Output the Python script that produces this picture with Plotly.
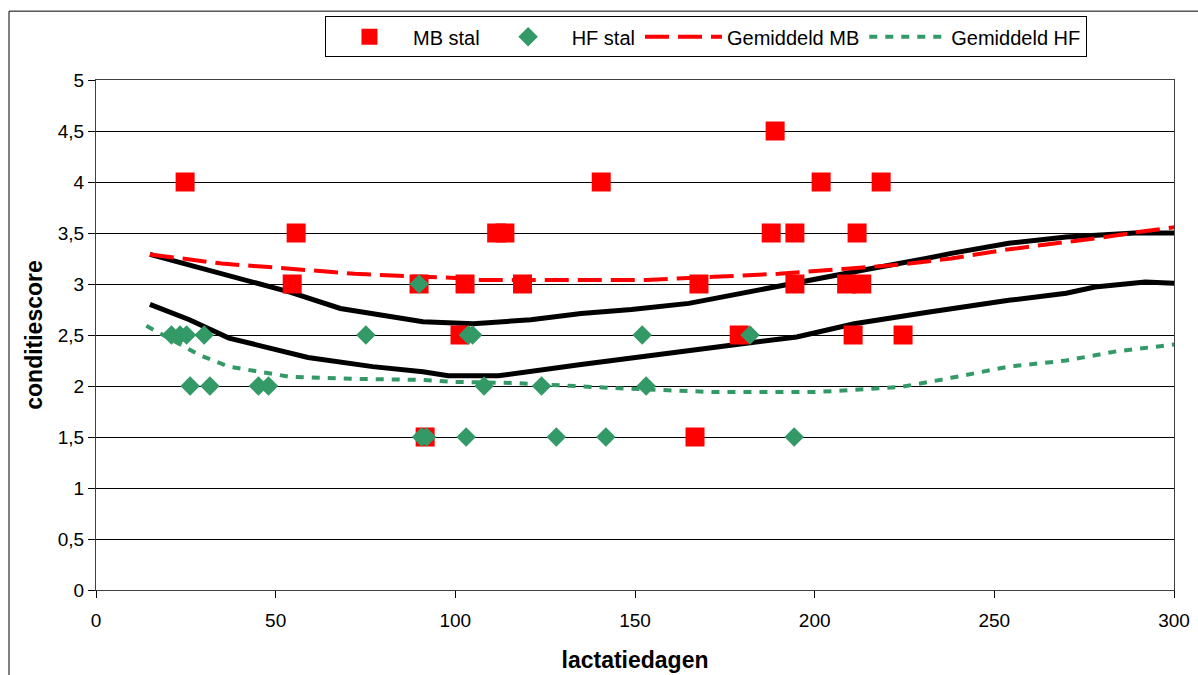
import plotly.graph_objects as go

# MB stal (red squares)
mb_x = [24.8, 55.7, 54.6, 89.9, 91.6, 102.7, 101.3, 111.5, 113.8, 118.7, 140.6, 167.8, 166.7,
        179.0, 189.0, 187.9, 194.5, 194.5, 201.8, 218.5, 211.8, 208.9, 213.1, 210.7, 224.6]
mb_y = [4.0, 3.5, 3.0, 3.0, 1.5, 3.0, 2.5, 3.5, 3.5, 3.0, 4.0, 3.0, 1.5,
        2.5, 4.5, 3.5, 3.5, 3.0, 4.0, 4.0, 3.5, 3.0, 3.0, 2.5, 2.5]

# HF stal (green diamonds)
hf_x = [21.0, 23.4, 25.2, 30.1, 26.2, 31.7, 45.2, 48.0, 75.1, 89.9, 90.6, 92.0, 103.0,
        103.6, 104.8, 108.0, 124.0, 128.1, 141.9, 152.0, 153.1, 182.0, 194.3]
hf_y = [2.5, 2.5, 2.5, 2.5, 2.0, 2.0, 2.0, 2.0, 2.5, 3.0, 1.5, 1.5, 1.5,
        2.5, 2.5, 2.0, 2.0, 1.5, 1.5, 2.5, 2.0, 2.5, 1.5]

# Gemiddeld MB (red dashed)
gmb_x = [15, 35, 54, 72, 91, 100, 107, 130, 153, 172, 190, 209, 224, 238, 252, 265, 279, 290, 301]
gmb_y = [3.29, 3.20, 3.15, 3.10, 3.07, 3.06, 3.04, 3.04, 3.04, 3.07, 3.10, 3.15, 3.19, 3.25, 3.33, 3.39, 3.45, 3.51, 3.56]

# Gemiddeld HF (green dotted)
ghf_x = [14, 29, 37, 45, 54, 72, 91, 100, 116, 144, 172, 200, 214, 224, 238, 254, 270, 284, 301]
ghf_y = [2.59, 2.30, 2.19, 2.14, 2.09, 2.07, 2.06, 2.04, 2.03, 1.98, 1.94, 1.94, 1.97, 1.99, 2.08, 2.19, 2.25, 2.34, 2.41]

# black reference curves (no legend)
up_x = [15, 35, 54, 68, 91, 105, 121, 135, 149, 165, 181, 195, 214, 231, 238, 254, 270, 289, 304]
up_y = [3.29, 3.10, 2.92, 2.76, 2.63, 2.61, 2.65, 2.71, 2.75, 2.81, 2.92, 3.02, 3.14, 3.25, 3.30, 3.40, 3.46, 3.50, 3.50]
lo_x = [15, 26, 37, 59, 77, 91, 98, 112, 135, 164, 181, 195, 211, 231, 254, 270, 278, 292, 304]
lo_y = [2.80, 2.65, 2.47, 2.28, 2.19, 2.14, 2.10, 2.10, 2.21, 2.35, 2.42, 2.48, 2.61, 2.72, 2.84, 2.91, 2.97, 3.02, 3.00]

RED = "#FF0000"
GREEN = "#339966"
FONT = "Liberation Sans, Arial, sans-serif"

fig = go.Figure()
fig.add_trace(go.Scatter(x=up_x, y=up_y, mode="lines", line=dict(color="black", width=5),
                         showlegend=False, hoverinfo="skip"))
fig.add_trace(go.Scatter(x=lo_x, y=lo_y, mode="lines", line=dict(color="black", width=5),
                         showlegend=False, hoverinfo="skip"))
fig.add_trace(go.Scatter(x=gmb_x, y=gmb_y, mode="lines", name="Gemiddeld MB", legendrank=3,
                         line=dict(color=RED, width=4, dash="24px,9px")))
fig.add_trace(go.Scatter(x=ghf_x, y=ghf_y, mode="lines", name="Gemiddeld HF", legendrank=4,
                         line=dict(color=GREEN, width=4, dash="8px,8px")))
fig.add_trace(go.Scatter(x=mb_x, y=mb_y, mode="markers", name="MB stal", legendrank=1,
                         marker=dict(symbol="square", size=19, color=RED)))
fig.add_trace(go.Scatter(x=hf_x, y=hf_y, mode="markers", name="HF stal", legendrank=2,
                         marker=dict(symbol="diamond", size=15, color=GREEN)))

fig.update_layout(
    width=1198, height=675,
    margin=dict(l=96, r=24, t=80, b=85),
    paper_bgcolor="white", plot_bgcolor="white",
    separators=",.",
    font=dict(family=FONT, size=19, color="black"),
    legend=dict(orientation="h", x=0.2124, xanchor="left", y=1.125, yanchor="top",
                bordercolor="black", borderwidth=1, bgcolor="white",
                font=dict(size=20), itemwidth=77,
                traceorder="normal"),
    xaxis=dict(range=[0, 300], dtick=50, tick0=0, showgrid=False, zeroline=False,
               showline=True, linecolor="#404040", linewidth=1, mirror=True, automargin=False,
               ticks="outside", ticklen=7, tickcolor="black", ticklabelstandoff=6,
               title=dict(text="<b>lactatiedagen</b>", font=dict(size=23), standoff=22)),
    yaxis=dict(range=[0, 5], dtick=0.5, tick0=0, showgrid=True, gridcolor="black", gridwidth=1,
               zeroline=False, showline=True, linecolor="#404040", linewidth=1, mirror=True,
               automargin=False,
               ticks="outside", ticklen=7, tickcolor="black",
               title=dict(text="<b>conditiescore</b>", font=dict(size=23), standoff=8)),
    shapes=[dict(type="rect", xref="paper", yref="paper", x0=-0.0807, x1=1.2, y0=-0.4, y1=1.135,
                 line=dict(color="black", width=1), fillcolor="rgba(0,0,0,0)", layer="below")],
)

fig.write_html("out.html")
